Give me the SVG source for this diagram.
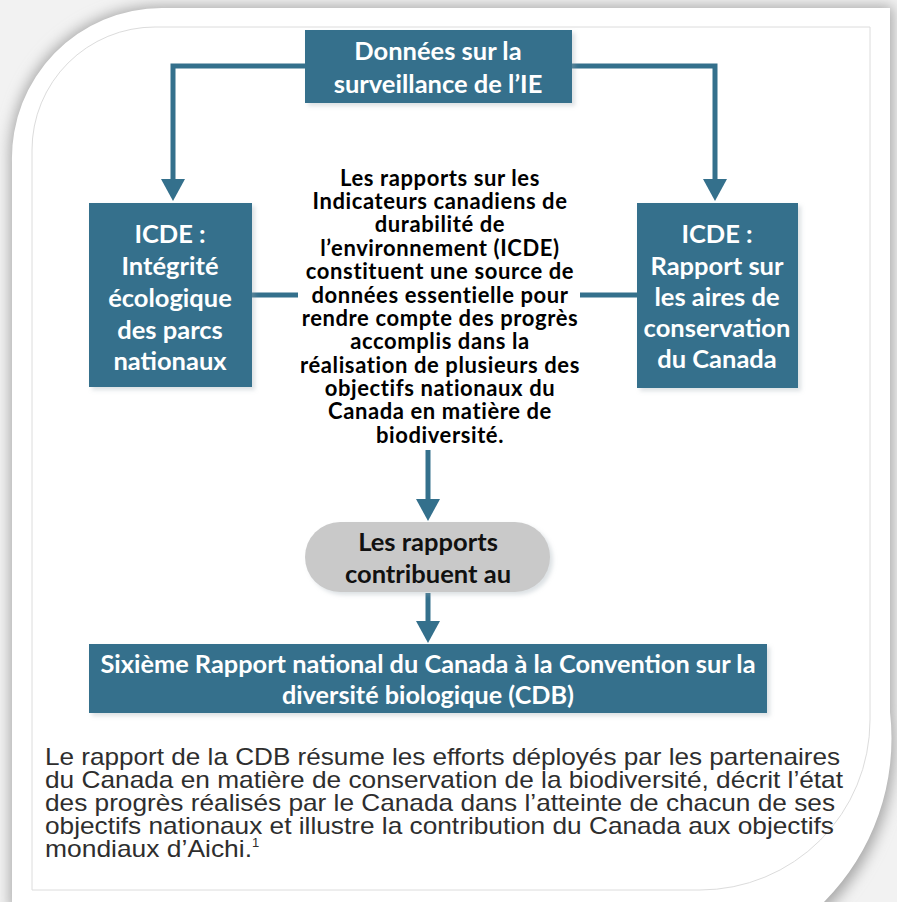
<svg xmlns="http://www.w3.org/2000/svg" width="897" height="902" viewBox="0 0 897 902">
<defs>
<filter id="blur" x="-10%" y="-10%" width="120%" height="120%"><feGaussianBlur stdDeviation="7"/></filter>
<filter id="sh" x="-5%" y="-5%" width="115%" height="120%"><feDropShadow dx="3" dy="3" stdDeviation="2" flood-color="#9aa8b0" flood-opacity="0.35"/></filter>
<marker id="ah" viewBox="0 0 22 24" markerWidth="22" markerHeight="24" refX="0" refY="12" orient="auto" markerUnits="userSpaceOnUse"><path d="M0,0 L22,12 L0,24 Z" fill="#34708C"/></marker>
</defs>
<style>
.box{fill:#34708C;filter:url(#sh)}
.bt{font-family:Lato,"Open Sans",sans-serif;font-weight:bold;font-size:25.5px;fill:#ffffff;text-anchor:middle}
.mt{font-family:Lato,"Open Sans",sans-serif;font-weight:bold;font-size:22px;letter-spacing:0.6px;fill:#000000;text-anchor:middle}
.pt{font-family:Lato,"Open Sans",sans-serif;font-weight:bold;font-size:25.5px;fill:#111111;text-anchor:middle}
.para{font-family:"Liberation Sans Narrow","Liberation Sans",Arial,sans-serif;font-size:24px;fill:#2e2e2e}
.ln{fill:none;stroke:#34708C;stroke-width:5}
</style>
<rect x="0" y="0" width="897" height="902" fill="#f2f2f2"/>
<path d="M10,162 A150,150 0 0 1 160,6 L893,6 L893,712 A235,235 0 0 1 826,910 L10,910 Z" fill="#a8a8a8" filter="url(#blur)"/>
<path d="M12,162 A150,150 0 0 1 162,8 L890,8 L890,712 A232,232 0 0 1 824,902 L12,902 Z" fill="#ffffff"/>
<path d="M32,150 A123,123 0 0 1 155,27 L870,27 L870,720 A170,170 0 0 1 700,890 L32,890 Z" fill="none" stroke="#dcdcdc" stroke-width="1"/>

<g id="connectors">
<path class="ln" d="M305,66 L173,66 L173,179" marker-end="url(#ah)"/>
<path class="ln" d="M572,66 L715,66 L715,179" marker-end="url(#ah)"/>
<path class="ln" d="M252,295 L298,295"/>
<path class="ln" d="M580,295 L637,295"/>
<path class="ln" d="M428,450 L428,499" marker-end="url(#ah)"/>
<path class="ln" d="M428,593 L428,621" marker-end="url(#ah)"/>
</g>

<g id="node-donnees">
<rect class="box" x="305" y="30" width="267" height="73"/>
<text class="bt" x="438" y="60">Données sur la</text>
<text class="bt" x="438" y="93">surveillance de l’IE</text>
</g>

<g id="node-integrite">
<rect class="box" x="89" y="203" width="163" height="184"/>
<text class="bt" x="170" y="243">ICDE :</text>
<text class="bt" x="170" y="275">Intégrité</text>
<text class="bt" x="170" y="307">écologique</text>
<text class="bt" x="170" y="339">des parcs</text>
<text class="bt" x="170" y="370">nationaux</text>
</g>

<g id="node-aires">
<rect class="box" x="637" y="203" width="161" height="185"/>
<text class="bt" x="717" y="243">ICDE :</text>
<text class="bt" x="717" y="275">Rapport sur</text>
<text class="bt" x="717" y="306">les aires de</text>
<text class="bt" x="717" y="337">conservation</text>
<text class="bt" x="717" y="368">du Canada</text>
</g>

<g id="node-centre">
<text class="mt" x="440" y="186">Les rapports sur les</text>
<text class="mt" x="440" y="209">Indicateurs canadiens de</text>
<text class="mt" x="440" y="232">durabilité de</text>
<text class="mt" x="440" y="256">l’environnement (ICDE)</text>
<text class="mt" x="440" y="279">constituent une source de</text>
<text class="mt" x="440" y="303">données essentielle pour</text>
<text class="mt" x="440" y="326">rendre compte des progrès</text>
<text class="mt" x="440" y="349">accomplis dans la</text>
<text class="mt" x="440" y="373">réalisation de plusieurs des</text>
<text class="mt" x="440" y="396">objectifs nationaux du</text>
<text class="mt" x="440" y="419">Canada en matière de</text>
<text class="mt" x="440" y="443">biodiversité.</text>
</g>

<g id="node-contribuent">
<rect x="305" y="522" width="245" height="70" rx="35" ry="35" fill="#c9c9c9" filter="url(#sh)"/>
<text class="pt" x="428" y="551">Les rapports</text>
<text class="pt" x="428" y="583">contribuent au</text>
</g>

<g id="node-cdb">
<rect class="box" x="89" y="644" width="678" height="69"/>
<text class="bt" x="428" y="673" textLength="655" lengthAdjust="spacingAndGlyphs">Sixième Rapport national du Canada à la Convention sur la</text>
<text class="bt" x="428" y="704" textLength="292" lengthAdjust="spacingAndGlyphs">diversité biologique (CDB)</text>
</g>

<g id="paragraph">
<text class="para" x="45" y="765" textLength="795" lengthAdjust="spacingAndGlyphs">Le rapport de la CDB résume les efforts déployés par les partenaires</text>
<text class="para" x="45" y="788" textLength="798" lengthAdjust="spacingAndGlyphs">du Canada en matière de conservation de la biodiversité, décrit l’état</text>
<text class="para" x="45" y="811" textLength="790" lengthAdjust="spacingAndGlyphs">des progrès réalisés par le Canada dans l’atteinte de chacun de ses</text>
<text class="para" x="45" y="834" textLength="789" lengthAdjust="spacingAndGlyphs">objectifs nationaux et illustre la contribution du Canada aux objectifs</text>
<text class="para" x="45" y="857"><tspan textLength="207" lengthAdjust="spacingAndGlyphs">mondiaux d’Aichi.</tspan><tspan font-size="13" dy="-10">1</tspan></text>
</g>
</svg>
